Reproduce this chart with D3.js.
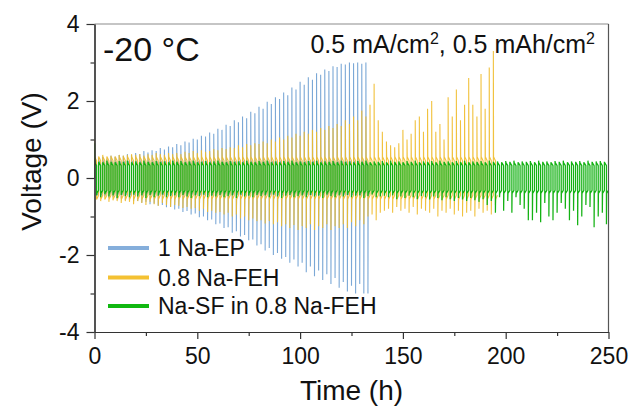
<!DOCTYPE html>
<html><head><meta charset="utf-8">
<script src="https://cdn.jsdelivr.net/npm/d3@7"></script>
<style>
body{margin:0;background:#fff}
svg{display:block}
text{font-family:"Liberation Sans",Arial,Helvetica,sans-serif;fill:#111}
</style>
</head><body>
<svg id="c" width="635" height="410"></svg>
<script>
// ---------- data (per-cycle peak voltages, 2 h per cycle) ----------
const seriesNames = ["1 Na-EP", "0.8 Na-FEH", "Na-SF in 0.8 Na-FEH"];
const cycleHours = 2;
const blueHi = [0.5,0.52,0.55,0.5,0.58,0.55,0.6,0.58,0.62,0.6,
  0.65,0.62,0.7,0.66,0.72,0.7,0.78,0.74,0.82,0.8,
  0.88,0.85,0.95,0.92,1.02,1.0,1.1,1.08,1.18,1.15,
  1.28,1.25,1.38,1.35,1.5,1.45,1.6,1.55,1.72,1.68,
  1.85,1.8,1.98,1.92,2.1,2.05,2.22,2.15,2.35,2.3,
  2.5,2.42,2.62,2.55,2.72,2.68,2.82,2.78,2.9,2.88,
  2.97,2.95,3.0,2.98,3.0,2.97,3.0];
const blueLo = [-0.45,-0.5,-0.48,-0.52,-0.5,-0.55,-0.53,-0.58,-0.56,-0.6,
  -0.6,-0.64,-0.62,-0.68,-0.66,-0.72,-0.7,-0.76,-0.75,-0.82,
  -0.8,-0.88,-0.86,-0.95,-0.92,-1.02,-1.0,-1.1,-1.08,-1.2,
  -1.18,-1.3,-1.28,-1.42,-1.38,-1.52,-1.48,-1.62,-1.6,-1.75,
  -1.72,-1.88,-1.82,-2.0,-1.95,-2.1,-2.05,-2.2,-2.12,-2.3,
  -2.2,-2.45,-2.3,-2.55,-2.4,-2.65,-2.5,-2.75,-2.6,-2.85,
  -2.7,-2.95,-2.8,-3.0,-2.75,-3.0,-3.0];
const yellowHi = [1.0,0.55,0.6,0.55,0.58,0.55,0.6,0.58,0.6,0.62,
  0.6,0.62,0.58,0.62,0.6,0.65,0.62,0.6,0.65,0.62,
  0.65,0.62,0.68,0.65,0.7,0.65,0.72,0.68,0.7,0.75,
  0.72,0.78,0.75,0.8,0.78,0.85,0.8,0.88,0.85,0.9,
  0.88,0.95,0.9,1.0,0.95,1.05,1.0,1.1,1.05,1.15,
  1.1,1.2,1.15,1.25,1.2,1.3,1.25,1.35,1.3,1.4,
  1.35,1.5,1.4,1.6,1.5,1.75,1.6,1.9,2.45,1.5,
  1.2,0.95,0.85,0.8,0.9,1.25,1.0,1.15,1.5,1.6,
  1.2,1.8,2.0,1.2,1.4,1.0,2.1,1.6,2.3,1.5,
  1.9,2.6,1.9,1.6,2.7,1.8,2.87,3.3];
const yellowLo = [-0.55,-0.6,-0.55,-0.62,-0.58,-0.6,-0.65,-0.6,-0.62,-0.68,
  -0.6,-0.65,-0.7,-0.62,-0.68,-0.72,-0.65,-0.7,-0.75,-0.7,
  -0.72,-0.78,-0.75,-0.8,-0.78,-0.85,-0.8,-0.88,-0.85,-0.9,
  -0.88,-0.95,-0.9,-1.0,-0.95,-1.05,-1.0,-1.1,-1.05,-1.12,
  -1.1,-1.18,-1.12,-1.2,-1.15,-1.25,-1.2,-1.3,-1.22,-1.35,
  -1.25,-1.3,-1.2,-1.35,-1.25,-1.3,-1.2,-1.35,-1.25,-1.3,
  -1.2,-1.3,-1.15,-1.25,-1.1,-1.2,-1.0,-0.95,-1.1,-0.9,
  -0.85,-0.8,-0.9,-0.75,-0.85,-0.8,-0.9,-0.75,-0.95,-0.8,
  -0.85,-0.9,-0.8,-1.0,-0.85,-0.9,-0.8,-0.95,-0.85,-1.0,
  -0.9,-0.85,-1.0,-0.8,-0.9,-0.85,-0.95,-0.7];
const greenHi = [0.9,0.42,0.4,0.45,0.42,0.4,0.44,0.42,0.45,0.4,
  0.43,0.41,0.45,0.42,0.4,0.44,0.42,0.43,0.4,0.45,
  0.42,0.44,0.4,0.43,0.45,0.41,0.42,0.44,0.4,0.43,
  0.45,0.42,0.4,0.44,0.42,0.43,0.41,0.45,0.42,0.4,
  0.44,0.42,0.45,0.41,0.43,0.4,0.44,0.42,0.45,0.41,
  0.43,0.4,0.44,0.42,0.45,0.41,0.43,0.42,0.44,0.4,
  0.45,0.42,0.43,0.41,0.44,0.42,0.45,0.4,0.43,0.42,
  0.44,0.41,0.45,0.42,0.43,0.4,0.44,0.42,0.45,0.41,
  0.43,0.42,0.44,0.4,0.45,0.42,0.43,0.41,0.44,0.42,
  0.45,0.4,0.43,0.42,0.44,0.41,0.45,0.42,0.43,0.4,
  0.44,0.42,0.45,0.41,0.43,0.42,0.44,0.4,0.45,0.42,
  0.43,0.41,0.44,0.42,0.45,0.4,0.43,0.42,0.44,0.41,
  0.45,0.42,0.43,0.44,0.42];
const greenLo = [-0.45,-0.5,-0.42,-0.48,-0.45,-0.52,-0.44,-0.47,-0.5,-0.43,
  -0.48,-0.45,-0.52,-0.44,-0.5,-0.46,-0.43,-0.5,-0.47,-0.45,
  -0.5,-0.44,-0.48,-0.52,-0.45,-0.47,-0.43,-0.5,-0.46,-0.48,
  -0.44,-0.5,-0.47,-0.45,-0.52,-0.43,-0.48,-0.46,-0.5,-0.44,
  -0.47,-0.45,-0.5,-0.43,-0.48,-0.52,-0.46,-0.44,-0.5,-0.47,
  -0.45,-0.5,-0.44,-0.48,-0.46,-0.52,-0.43,-0.47,-0.5,-0.45,
  -0.48,-0.44,-0.5,-0.46,-0.45,-0.52,-0.47,-0.43,-0.5,-0.48,
  -0.46,-0.5,-0.45,-0.55,-0.48,-0.52,-0.46,-0.5,-0.55,-0.47,
  -0.5,-0.56,-0.48,-0.52,-0.58,-0.5,-0.55,-0.6,-0.52,-0.56,
  -0.6,-0.52,-0.58,-0.62,-0.55,-0.7,-0.6,-0.9,-0.5,-0.85,
  -0.6,-0.9,-0.5,-0.7,-0.8,-1.1,-1.1,-0.9,-1.15,-0.65,
  -1.0,-1.1,-0.9,-0.65,-0.8,-1.1,-0.85,-1.23,-1.0,-0.7,
  -0.75,-1.28,-1.0,-0.9,-1.2];
// plateau voltage after each spike: [start, end] of the half cycle
const bluePlateau = [0.45, 0.38];
const yellowPlateau = [0.55, 0.45];
const greenPlateau = [0.4, 0.32];
const xTicks = [0, 50, 100, 150, 200, 250];
const xMinor = [25, 75, 125, 175, 225];
const yTicks = [-4, -2, 0, 2, 4];
const yMinor = [-3, -1, 1, 3];

// ---------- layout ----------
const svg = d3.select("#c");
const L = 94.5, R = 608.5, T = 24, B = 332;
const x = d3.scaleLinear().domain([0, 250]).range([L, R]);
const y = d3.scaleLinear().domain([-4, 4]).range([B, T]);

svg.append("defs").append("clipPath").attr("id", "clip")
  .append("rect").attr("x", L).attr("y", T).attr("width", R - L).attr("height", B - T);

function wave(hi, lo, pl) {
  const pts = [[0, 0]];
  hi.forEach((h, k) => {
    const t = k * cycleHours;
    pts.push([t, h], [t + 0.1, pl[0]], [t + 1, pl[1]],
             [t + 1, lo[k]], [t + 1.1, -pl[0]], [t + 2, -pl[1]]);
  });
  return pts;
}
const line = d3.line().x(d => x(d[0])).y(d => y(d[1]));

const series = [
  {pts: wave(blueHi, blueLo, bluePlateau), color: "#6d9fd2", legend: "#85aedb", op: 0.9, w: 1.1},
  {pts: wave(yellowHi, yellowLo, yellowPlateau), color: "#f0bb2a", legend: "#f4c132", op: 0.9, w: 1.1},
  {pts: wave(greenHi, greenLo, greenPlateau), color: "#14b214", legend: "#11b811", op: 1, w: 1.25}
];

const g = svg.append("g").attr("clip-path", "url(#clip)");
series.forEach(s => {
  g.append("path").attr("d", line(s.pts)).attr("fill", "none")
    .attr("stroke", s.color).attr("stroke-width", s.w)
    .attr("stroke-linejoin", "bevel").attr("stroke-opacity", s.op);
});

// frame
svg.append("line").attr("x1", L).attr("x2", R).attr("y1", T).attr("y2", T)
  .attr("stroke", "#8c8c8c").attr("stroke-width", 1.2);
svg.append("line").attr("x1", R).attr("x2", R).attr("y1", T).attr("y2", B)
  .attr("stroke", "#555").attr("stroke-width", 1.2);

// axes
const fs = "23px";
const yAx = svg.append("g").attr("transform", `translate(${L},0)`)
  .call(d3.axisLeft(y).tickValues(yTicks).tickSize(8).tickSizeOuter(0).tickPadding(7).tickFormat(d3.format("d")));
const yAxM = svg.append("g").attr("transform", `translate(${L},0)`)
  .call(d3.axisLeft(y).tickValues(yMinor).tickSize(4).tickSizeOuter(0).tickFormat(""));
const xAx = svg.append("g").attr("transform", `translate(0,${B})`)
  .call(d3.axisBottom(x).tickValues(xTicks).tickSize(7).tickSizeOuter(0).tickPadding(9));
const xAxM = svg.append("g").attr("transform", `translate(0,${B})`)
  .call(d3.axisBottom(x).tickValues(xMinor).tickSize(4).tickSizeOuter(0).tickFormat(""));
[yAx, yAxM, xAx, xAxM].forEach(a => {
  a.selectAll("path,line").attr("stroke", "#333").attr("stroke-width", 1.2);
  a.selectAll("text").style("font-size", fs).attr("fill", "#111")
    .style("font-family", '"Liberation Sans",Arial,sans-serif');
});
yAx.selectAll("text").text(d => d < 0 ? "-" + Math.abs(d) : d);

// titles
svg.append("text").attr("x", (L + R) / 2).attr("y", 400).attr("text-anchor", "middle")
  .style("font-size", "28px").text("Time (h)");
svg.append("text").attr("transform", "translate(41,161.5) rotate(-90)")
  .attr("text-anchor", "middle").style("font-size", "28px").text("Voltage (V)");

// annotations
svg.append("text").attr("x", 103).attr("y", 61).style("font-size", "34px").text("-20 °C");
const ann = svg.append("text").attr("x", 595).attr("y", 53).attr("text-anchor", "end")
  .style("font-size", "25px");
ann.append("tspan").text("0.5 mA/cm");
ann.append("tspan").attr("dy", -9).style("font-size", "16px").text("2");
ann.append("tspan").attr("dy", 9).text(", 0.5 mAh/cm");
ann.append("tspan").attr("dy", -9).style("font-size", "16px").text("2");

// legend
const legY = [248, 277.5, 306];
series.forEach((s, i) => {
  svg.append("line").attr("x1", 108).attr("x2", 149).attr("y1", legY[i]).attr("y2", legY[i])
    .attr("stroke", s.legend).attr("stroke-width", 4);
  svg.append("text").attr("x", 158).attr("y", legY[i] + 8).style("font-size", "23px")
    .text(seriesNames[i]);
});
</script>
</body></html>
